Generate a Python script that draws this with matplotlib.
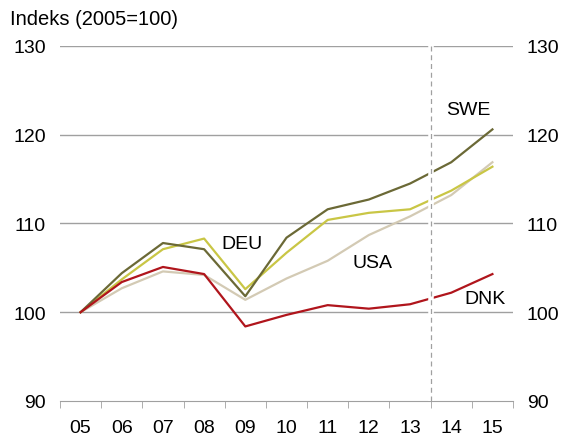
import numpy as np
import matplotlib.pyplot as plt

plt.rcParams['font.family'] = ['Liberation Sans', 'DejaVu Sans']

# Data
years = ['05', '06', '07', '08', '09', '10', '11', '12', '13', '14', '15']
swe = [100, 104.4, 107.8, 107.1, 101.8, 108.4, 111.6, 112.7, 114.5, 116.9, 120.6]
deu = [100, 103.7, 107.1, 108.3, 102.6, 106.7, 110.4, 111.2, 111.6, 113.7, 116.4]
usa = [100, 102.7, 104.6, 104.2, 101.4, 103.8, 105.8, 108.7, 110.8, 113.2, 116.9]
dnk = [100, 103.4, 105.1, 104.3, 98.4, 99.7, 100.8, 100.4, 100.9, 102.2, 104.3]
yticks = [90, 100, 110, 120, 130]

fig = plt.figure(figsize=(5.69, 4.39), dpi=100)
ax = fig.add_axes([0.1054, 0.0843, 0.7962, 0.8087])
x = np.arange(len(years))

for yv in yticks[1:]:
    ax.axhline(yv, color='#a0a0a0', lw=1.0, zorder=1)

ax.plot(x, usa, color='#d3cab4', lw=1.6, zorder=3)
ax.plot(x, deu, color='#c9c645', lw=1.6, zorder=4)
ax.plot(x, swe, color='#6b6936', lw=1.6, zorder=5)
ax.plot(x, dnk, color='#b0151c', lw=1.6, zorder=5)

# skille mellom faktiske tall og prognose
ax.axvline(8.5, color='white', lw=4, zorder=6)
ax.axvline(8.5, color='#a0a0a0', lw=0.9, ls=(0, (4, 3)), zorder=7)

fs = 14
ax.text(9.42, 122.8, 'SWE', fontsize=fs, ha='center', va='center')
ax.text(3.92, 107.7, 'DEU', fontsize=fs, ha='center', va='center')
ax.text(7.1, 105.6, 'USA', fontsize=fs, ha='center', va='center')
ax.text(9.83, 101.6, 'DNK', fontsize=fs, ha='center', va='center')

ax.set_xlim(-0.5, len(years) - 0.5)
ax.set_ylim(90, 130)
ax.set_xticks(x)
ax.set_xticklabels(years, fontsize=fs)
ax.set_xticks(np.arange(-0.5, len(years)), minor=True)
ax.tick_params(axis='x', which='major', length=0, pad=13)
ax.tick_params(axis='x', which='minor', length=5, color='#a0a0a0')
ax.set_yticks(yticks)
ax.tick_params(axis='y', length=0, labelsize=fs, pad=10,
               labelleft=True, labelright=True)
ax.set_yticklabels([str(v) for v in yticks])

for s in ['top', 'left', 'right']:
    ax.spines[s].set_visible(False)
ax.spines['bottom'].set_color('#a0a0a0')

fig.text(0.018, 0.955, 'Indeks (2005=100)', fontsize=14.5, va='center')

fig.savefig('out.png', dpi=100)
